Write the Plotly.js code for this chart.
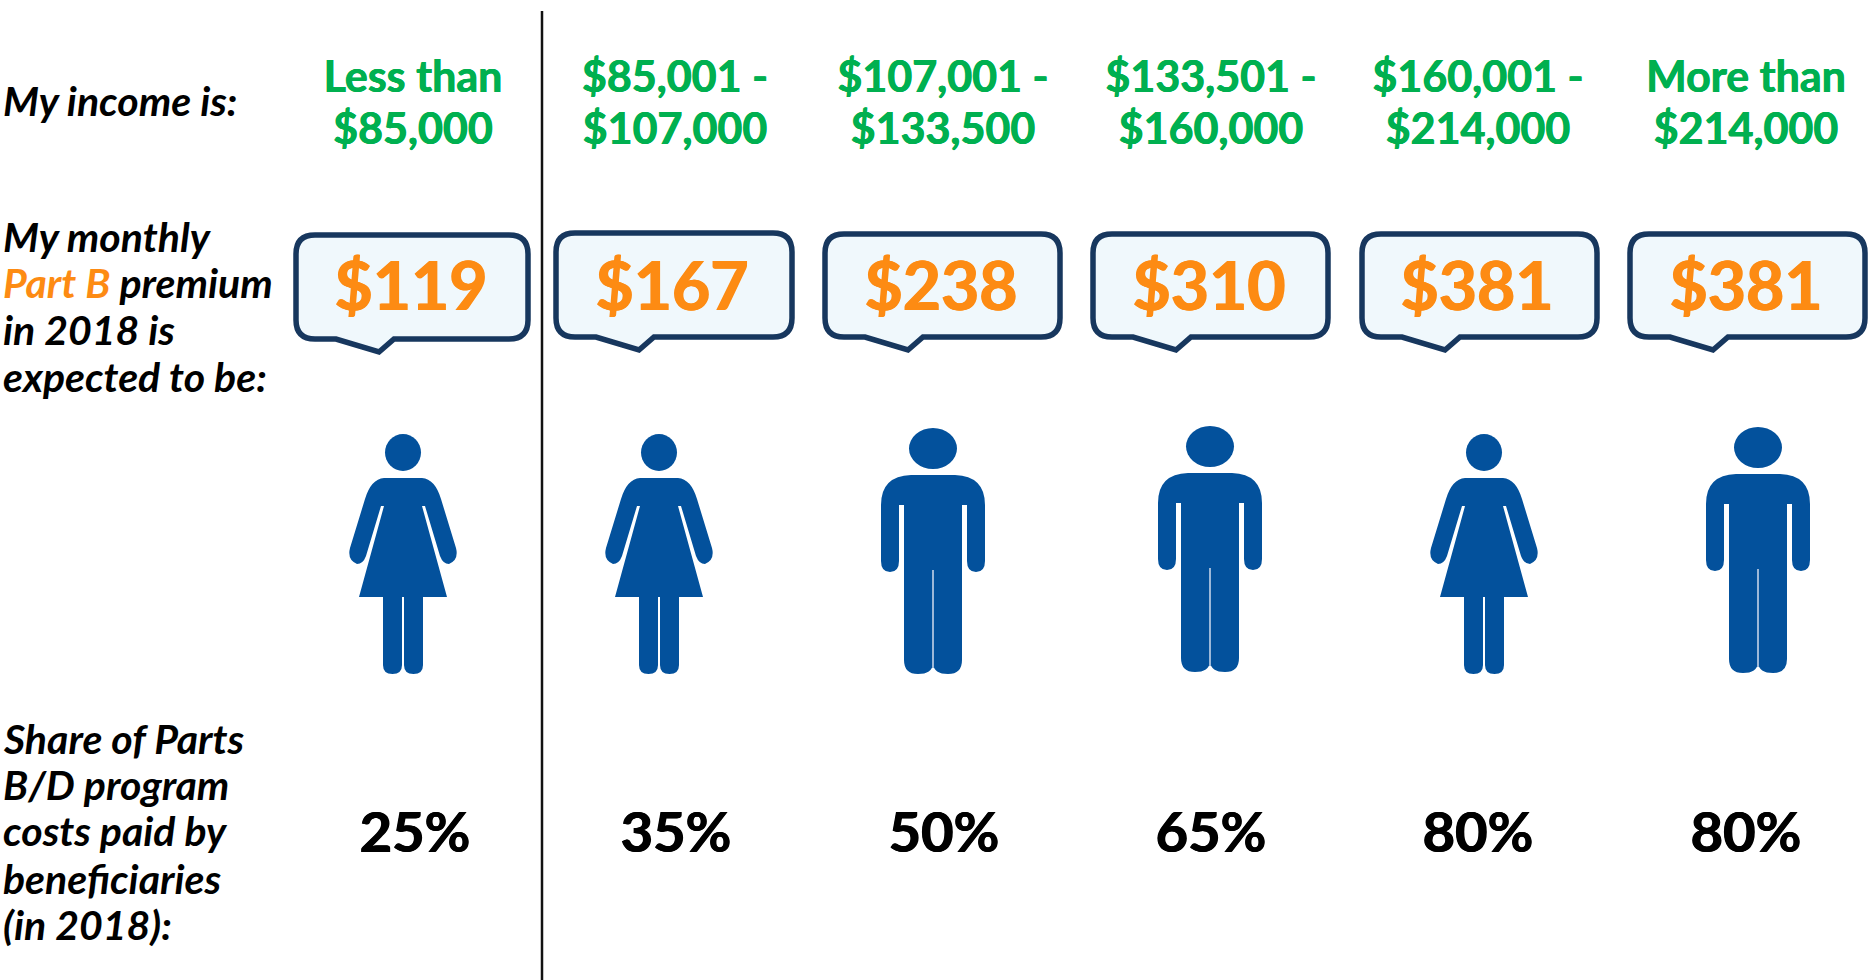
<!DOCTYPE html>
<html>
<head>
<meta charset="utf-8">
<script src="https://cdn.plot.ly/plotly-3.0.1.min.js"></script>
<style>html,body{margin:0;padding:0;background:#fff}#chart{width:1874px;height:980px}</style>
</head>
<body>
<div id="chart"></div>
<script>
// ---- Content ----
const incomeLine1 = ["Less than", "$85,001 -", "$107,001 -", "$133,501 -", "$160,001 -", "More than"];
const incomeLine2 = ["$85,000", "$107,000", "$133,500", "$160,000", "$214,000", "$214,000"];
const premiums = ["$119", "$167", "$238", "$310", "$381", "$381"];
const shares = ["25%", "35%", "50%", "65%", "80%", "80%"];
const figures = ["woman", "woman", "man", "man", "woman", "man"];
const rowIncome = ["My income is:"];
const rowPremium = ["My monthly", "<span style=\"color:#fd8b13\">Part B</span> premium", "in 2018 is", "expected to be:"];
const rowShare = ["Share of Parts", "B/D program", "costs paid by", "beneficiaries", "(in 2018):"];

// ---- Placement (page pixels on the axes) ----
const incomeX = [413, 675, 943, 1211, 1478, 1746];
const premiumX = [411, 672, 941, 1209, 1477, 1746];
const shareX = [415, 676, 944, 1211, 1478, 1746];
const figureX = [403, 659, 933, 1210, 1484, 1758];
const figureDY = [0, 0, 0, -2, 0, -1];
const bubbleL = [296, 556, 825, 1093, 1362, 1630];
const bubbleR = [528, 792, 1060, 1328, 1597, 1865];
const bubbleT = [235, 233, 234, 234, 234, 234];
const bubbleB = [339, 337, 337, 337, 337, 337];

const GREEN = "#00b050", ORANGE = "#fd8b13", NAVY = "#17375e", BUBBLE = "#f0f8fc", BLUE = "#03519c";
const FONT = "Lato, Carlito, 'Open Sans', sans-serif";

const shapes = [];
// divider
shapes.push({type:"line", xref:"x", yref:"y", x0:542, x1:542, y0:11, y1:980, line:{color:"#111", width:2.5}, layer:"below"});

// bubbles
bubbleL.forEach((l, i) => {
  const r = bubbleR[i], t = bubbleT[i], b = bubbleB[i], c = 19;
  const path = [
    `M ${l+c} ${t}`, `L ${r-c} ${t}`, `Q ${r} ${t} ${r} ${t+c}`,
    `L ${r} ${b-c}`, `Q ${r} ${b} ${r-c} ${b}`,
    `L ${l+98} ${b}`, `L ${l+83} ${b+13}`, `L ${l+40} ${b}`,
    `L ${l+c} ${b}`, `Q ${l} ${b} ${l} ${b-c}`,
    `L ${l} ${t+c}`, `Q ${l} ${t} ${l+c} ${t}`, "Z"
  ].join(" ");
  shapes.push({type:"path", xref:"x", yref:"y", path, fillcolor:BUBBLE, line:{color:NAVY, width:5.5}, layer:"below"});
});

function solid(path){ return {type:"path", xref:"x", yref:"y", path, fillcolor:BLUE, line:{width:0}, layer:"below"}; }

function woman(cx, dy){
  const X = v => cx + v, Y = v => v + dy;
  shapes.push({type:"circle", xref:"x", yref:"y", x0:X(-18), x1:X(18), y0:Y(434), y1:Y(471), fillcolor:BLUE, line:{width:0}, layer:"below"});
  // torso, skirt and both arms
  shapes.push(solid([
    `M ${X(-19)} ${Y(478)}`, `L ${X(19)} ${Y(478)}`,
    `Q ${X(32)} ${Y(479)} ${X(38)} ${Y(499)}`,
    `L ${X(53)} ${Y(548)}`,
    `Q ${X(56)} ${Y(560)} ${X(46)} ${Y(564)}`,
    `Q ${X(40)} ${Y(564)} ${X(37)} ${Y(556)}`,
    `L ${X(22)} ${Y(506)}`, `L ${X(19)} ${Y(506)}`,
    `L ${X(44)} ${Y(597)}`, `L ${X(-44)} ${Y(597)}`, `L ${X(-19)} ${Y(506)}`, `L ${X(-22)} ${Y(506)}`,
    `L ${X(-37)} ${Y(556)}`,
    `Q ${X(-40)} ${Y(564)} ${X(-46)} ${Y(564)}`,
    `Q ${X(-56)} ${Y(560)} ${X(-53)} ${Y(548)}`,
    `L ${X(-38)} ${Y(499)}`,
    `Q ${X(-32)} ${Y(479)} ${X(-19)} ${Y(478)}`, "Z"
  ].join(" ")));
  // legs
  [[-20,-1],[1,20]].forEach(([a,b]) => {
    shapes.push(solid([
      `M ${X(a)} ${Y(596)}`, `L ${X(b)} ${Y(596)}`, `L ${X(b)} ${Y(665)}`,
      `Q ${X(b)} ${Y(674)} ${X((a+b)/2)} ${Y(674)}`, `Q ${X(a)} ${Y(674)} ${X(a)} ${Y(665)}`, "Z"
    ].join(" ")));
  });
}

function man(cx, dy){
  const X = v => cx + v, Y = v => v + dy;
  shapes.push({type:"circle", xref:"x", yref:"y", x0:X(-24), x1:X(24), y0:Y(428), y1:Y(469), fillcolor:BLUE, line:{width:0}, layer:"below"});
  shapes.push(solid([
    `M ${X(-22)} ${Y(475)}`, `L ${X(22)} ${Y(475)}`,
    `Q ${X(52)} ${Y(476)} ${X(52)} ${Y(505)}`,
    `L ${X(52)} ${Y(561)}`, `Q ${X(52)} ${Y(572)} ${X(43)} ${Y(572)}`, `Q ${X(34)} ${Y(572)} ${X(34)} ${Y(561)}`,
    `L ${X(34)} ${Y(505)}`, `L ${X(29)} ${Y(505)}`,
    `L ${X(29)} ${Y(660)}`, `Q ${X(29)} ${Y(674)} ${X(15)} ${Y(674)}`,
    `Q ${X(1)} ${Y(674)} ${X(0)} ${Y(664)}`, `Q ${X(-1)} ${Y(674)} ${X(-15)} ${Y(674)}`,
    `Q ${X(-29)} ${Y(674)} ${X(-29)} ${Y(660)}`,
    `L ${X(-29)} ${Y(505)}`, `L ${X(-34)} ${Y(505)}`,
    `L ${X(-34)} ${Y(561)}`, `Q ${X(-34)} ${Y(572)} ${X(-43)} ${Y(572)}`, `Q ${X(-52)} ${Y(572)} ${X(-52)} ${Y(561)}`,
    `L ${X(-52)} ${Y(505)}`, `Q ${X(-52)} ${Y(476)} ${X(-22)} ${Y(475)}`, "Z"
  ].join(" ")));
  shapes.push({type:"line", xref:"x", yref:"y", x0:X(0), x1:X(0), y0:Y(570), y1:Y(668), line:{color:"#9db8d8", width:2}, layer:"below"});
}
figures.forEach((f, i) => (f === "woman" ? woman : man)(figureX[i], figureDY[i]));

function textTrace(x, y, text, size, color, bold){
  const b = bold || 0.4;
  return {type:"scatter", mode:"text", x, y, text, textposition:"middle center", cliponaxis:false,
    textfont:{family:FONT, size, color, weight:700, shadow:`${b}px 0 0 ${color}, -${b}px 0 0 ${color}`}, hoverinfo:"skip", showlegend:false};
}
const same = (arr, v) => arr.map(() => v);
const traces = [
  textTrace(incomeX, same(incomeX, 81), incomeLine1, 43, GREEN),
  textTrace(incomeX, same(incomeX, 133), incomeLine2, 43, GREEN),
  textTrace(premiumX, same(premiumX, 293), premiums, 66, ORANGE, 0.7),
  textTrace(shareX, same(shareX, 838), shares, 56, "#000", 0.6)
];

const annotations = [];
function rowLabel(lines, ys){
  lines.forEach((t, i) => annotations.push({
    xref:"x", yref:"y", x:1, y:ys[i], text:`<b><i>${t}</i></b>`, showarrow:false,
    xanchor:"left", yanchor:"middle", align:"left",
    font:{family:FONT, size:41, color:"#000"}
  }));
}
rowLabel(rowIncome, [100]);
rowLabel(rowPremium, [236, 282, 329, 376]);
rowLabel(rowShare, [738, 784, 830, 878, 924]);

Plotly.newPlot("chart", traces, {
  width:1874, height:980, margin:{l:0, r:0, t:0, b:0, pad:0},
  paper_bgcolor:"#fff", plot_bgcolor:"#fff", showlegend:false, hovermode:false,
  xaxis:{range:[0,1874], visible:false, fixedrange:true},
  yaxis:{range:[980,0], visible:false, fixedrange:true},
  shapes, annotations
}, {displayModeBar:false, staticPlot:true});
</script>
</body>
</html>
